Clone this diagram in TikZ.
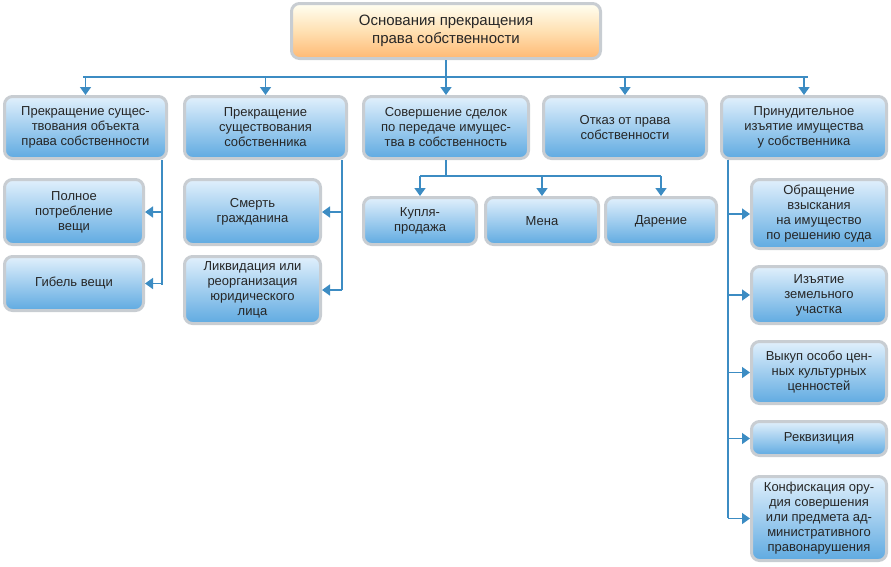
\documentclass[tikz,border=0pt]{standalone}
\usepackage{fontspec}
\setmainfont{Liberation Sans}
\usetikzlibrary{arrows.meta}
\definecolor{lnc}{RGB}{60,140,195}
\definecolor{bt}{RGB}{225,240,252}
\definecolor{bb}{RGB}{95,170,225}
\definecolor{rim}{RGB}{200,205,210}
\tikzset{
 bx/.style={rounded corners=8pt, draw=rim, line width=3pt, top color=bt, bottom color=bb, text=black!85, align=center, font=\fontsize{13}{15}\selectfont, inner sep=0pt},
 rootbx/.style={bx, top color=white!95!yellow, bottom color=orange!55, middle color=yellow!20!orange!30, font=\fontsize{15}{18}\selectfont},
 ar/.style={draw=lnc, line width=1.6pt, -{Triangle[length=8pt,width=11pt]}},
 wire/.style={draw=lnc, line width=1.6pt}
}
\begin{document}
\begin{tikzpicture}[x=1pt,y=1pt]
\useasboundingbox (0,0) rectangle (891,-566);
\def\B#1#2#3#4#5#6#7{\node[#6, minimum width=#3-#1-3, minimum height=#4-#2-3] (#5) at ({(#1+#3)/2}, {-(#2+#4)/2}) {#7};}
\B{290}{2}{602}{60}{root}{rootbx}{Основания прекращения\\права собственности}
\B{3}{95}{168}{160}{A}{bx}{Прекращение сущес-\\твования объекта\\права собственности}
\B{183}{95}{348}{160}{Bb}{bx}{Прекращение\\существования\\собственника}
\B{362}{95}{530}{160}{C}{bx}{Совершение сделок\\по передаче имущес-\\тва в собственность}
\B{542}{95}{708}{160}{D}{bx}{Отказ от права\\собственности}
\B{720}{95}{888}{160}{E}{bx}{Принудительное\\изъятие имущества\\у собственника}
\B{3}{178}{145}{246}{A1}{bx}{Полное\\потребление\\вещи}
\B{3}{255}{145}{312}{A2}{bx}{Гибель вещи}
\B{183}{178}{322}{246}{B1}{bx}{Смерть\\гражданина}
\B{183}{255}{322}{325}{B2}{bx}{Ликвидация или\\реорганизация\\юридического\\лица}
\B{362}{196}{478}{246}{C1}{bx}{Купля-\\продажа}
\B{484}{196}{600}{246}{C2}{bx}{Мена}
\B{604}{196}{718}{246}{C3}{bx}{Дарение}
\B{750}{178}{888}{250}{E1}{bx}{Обращение\\взыскания\\на имущество\\по решению суда}
\B{750}{265}{888}{325}{E2}{bx}{Изъятие\\земельного\\участка}
\B{750}{340}{888}{405}{E3}{bx}{Выкуп особо цен-\\ных культурных\\ценностей}
\B{750}{420}{888}{457}{E4}{bx}{Реквизиция}
\B{750}{475}{888}{562}{E5}{bx}{Конфискация ору-\\дия совершения\\или предмета ад-\\министративного\\правонарушения}
\coordinate (bl) at (83,-77); \coordinate (br) at (808,-77);
\draw[wire] (root.south) -- (446,-77);
\draw[wire] (bl) -- (br);
\foreach \n in {A,Bb,C,D,E} \draw[ar] (bl -| \n.north) -- (\n.north);
\coordinate (av) at (162,-160);
\draw[wire] (av) -- (162,-285);
\draw[ar] (av |- A1.east) -- (A1.east);
\draw[ar] (av |- A2.east) -- (A2.east);
\coordinate (bv) at (342,-160);
\draw[wire] (bv) -- (342,-290);
\draw[ar] (bv |- B1.east) -- (B1.east);
\draw[ar] (bv |- B2.east) -- (B2.east);
\coordinate (cl) at (420,-176); \coordinate (cr) at (661,-176);
\draw[wire] (C.south) -- (446,-176);
\draw[wire] (cl) -- (cr);
\foreach \n in {C1,C2,C3} \draw[ar] (cl -| \n.north) -- (\n.north);
\coordinate (ev) at (728,-160);
\draw[wire] (ev) -- (728,-518);
\foreach \n in {E1,E2,E3,E4,E5} \draw[ar] (ev |- \n.west) -- (\n.west);
\end{tikzpicture}
\end{document}
